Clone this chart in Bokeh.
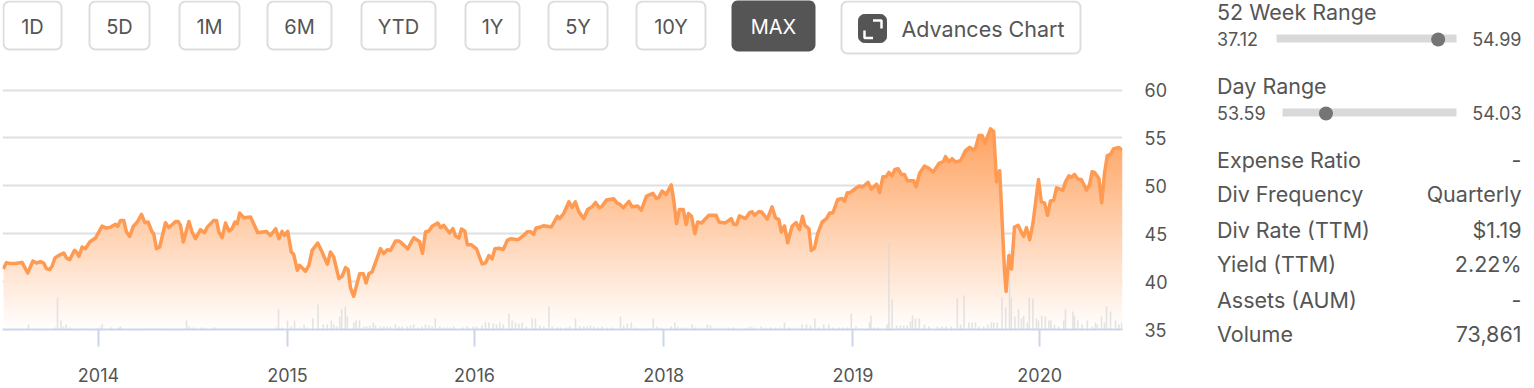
import numpy as np
from bokeh.plotting import figure
from bokeh.layouts import row, column
from bokeh.models import Range1d, FixedTicker
from bokeh.embed import file_html
from bokeh.resources import INLINE
from bokeh.core.properties import value

# ---------- data ----------
week = [0.67,1.5,2.5,3.75,5.4,6.8,8.1,9,10,10.8,11.5,12.25,12.9,13.6,14.6,15.8,16.5,17.3,18.5,19,19.6,20.4,21.25,22.3,23.75,
25.4,26.5,27.5,28.75,29.3,30,30.8,31.5,32.3,33.2,34.2,35.25,36.1,36.9,37.9,38.3,39,39.8,41.25,42.1,43.75,44.4,45,45.7,47.1,47.9,48.75,
50,51,51.7,53.3,54,54.6,55.4,56.25,57.1,57.9,58.6,59.2,59.8,60.8,62.5,63.3,64.3,66.4,67.5,68.8,69.6,70.4,71,71.8,72.7,73.3,74.2,74.75,
76.25,77.1,77.9,79.3,80.4,81.7,82.5,83.3,84.6,85.4,86.25,86.9,87.5,88.3,89.8,90.7,91.4,92.1,92.9,95,95.8,96.7,97.5,98.75,99.6,
100,101.8,103.3,104.75,105.5,106.25,107.1,107.9,109.3,110,110.8,112.25,113.1,113.75,114.6,115.25,116.1,116.7,117.75,119,120.4,121.25,122.1,122.9,123.6,124.6,125.7,126.7,127.5,129.4,
130.8,131.7,132.5,133.3,133.9,135,135.8,137.7,139.2,139.8,140.8,142.1,142.9,143.7,144.6,145.8,146.8,147.9,148.75,149.75,150.4,151.5,153.3,154.2,154.8,155.7,157.1,157.9,159.3,160.2,
161.5,163.1,164,164.6,165.4,166.4,167.7,168.3,169,169.75,170.7,171.4,172,172.75,173.6,174.3,175.25,177.1,178.9,179.6,181.25,182.7,183.3,184,184.75,186.25,187.3,187.9,188.5,189.6,
190.25,191.7,192.9,193.75,194.6,195.2,196,196.8,197.9,198.9,199.75,
200.5,201.1,202.1,202.7,203.5,204.3,205.4,206.5,207.3,208.1,209.3,210.4,211,211.7,212.3,213.75,214.6,215.6,216.9,217.7,219,219.8,220.6,221.4,222.1,222.9,223.6,224.4,225.25,226,226.7,228.3,228.9,229.75,
231,232.1,233.2,234.6,235.7,236.25,237.1,237.9,238.75,240,241.25,242.25,243.2,243.75,244.6,245.4,246.1,247.5,248.3,249,249.8,250.4,251,251.4,252.1,252.75,253.5,254.4,255.2,255.8,256.5,257.3,258.1,
259.5,260.2,261,261.75,262.5,263.3,264,265.6,266.25,267.1,267.7,268.5,269.3,270.2,271.5,272.25,272.9,273.5,274.6,275.3,276,276.7,277.5,278.3,279.6,280.4]

price = [41.32,41.98,41.88,41.88,42.01,40.90,42.15,41.94,42.08,41.94,41.35,41.25,41.60,42.47,42.74,42.99,42.47,42.29,43.26,43.09,42.64,43.61,43.44,44.13,44.55,
45.80,45.59,45.69,45.97,45.76,46.39,46.39,45.17,44.72,45.76,46.22,47.01,46.15,46.22,45.17,45.00,43.44,43.61,46.15,45.63,46.28,46.28,45.87,44.13,46.28,45.17,44.48,
45.42,45.10,45.69,46.39,46.39,45.17,44.58,46.11,45.28,45.52,46.22,46.04,47.15,46.67,46.74,46.04,45.10,45.24,44.83,45.52,44.48,45.24,44.83,45.24,43.09,42.85,41.18,41.70,
41.08,41.70,43.26,44.03,43.09,41.81,43.09,42.57,40.31,40.56,41.46,41.25,39.34,38.47,40.83,40.83,39.86,40.83,41.01,43.44,42.92,43.33,43.26,44.24,44.24,
44.12,43.42,44.58,44.19,42.96,45.18,45.28,45.77,46.12,45.63,45.88,45.07,45.53,44.75,44.54,45.49,45.25,43.84,43.84,43.42,41.84,41.95,42.72,42.37,43.42,43.49,43.35,44.30,44.47,44.37,
44.82,45.21,45.21,44.93,45.60,45.70,45.84,45.70,46.82,46.58,47.11,48.33,47.74,48.33,47.28,46.58,47.53,47.81,48.26,47.70,47.88,48.51,48.65,48.16,48.09,47.70,48.37,47.81,47.88,47.46,
48.93,49.21,48.68,48.79,49.46,49.11,50.09,48.51,46.05,47.53,47.53,45.95,47.11,46.82,45.00,46.23,46.12,46.93,46.93,46.23,46.12,46.58,45.98,45.95,46.86,46.58,47.21,47.28,46.93,47.32,
47.28,46.51,47.81,46.65,46.47,45.18,45.81,44.05,45.77,46.16,45.42,
46.82,45.87,45.52,43.25,43.50,45.00,46.22,46.57,47.17,47.17,48.57,48.67,48.39,49.27,49.27,49.72,49.97,49.90,50.35,49.65,50.17,49.30,50.94,50.94,51.40,51.05,51.71,51.78,51.19,51.19,50.52,50.52,49.90,51.29,
52.06,51.82,51.43,52.34,52.52,53.04,52.52,52.83,52.48,52.62,53.67,54.02,53.74,53.92,55.24,55.24,54.44,55.94,55.66,50.42,51.57,46.40,41.15,38.99,42.73,41.33,45.70,45.87,45.17,44.72,45.63,44.37,46.05,
50.66,48.32,48.22,46.92,48.43,48.50,49.79,49.55,50.42,51.05,50.87,51.19,50.70,50.66,49.55,50.07,51.47,51.40,50.77,48.22,51.29,53.15,53.29,53.88,53.99,53.71]

vol_week = [7,13.75,14.25,15.1,15.75,16.4,17.25,21,24.2,24.8,25.4,27.7,29.6,30,37.5,38.8,39.8,46.5,47.1,47.9,48.75,50.25,51,53.3,53.8,56,58.2,69,69.5,70.4,71.75,72.7,73.5,74.8,75.9,76.7,78.1,79.4,80.7,81.7,82.7,83.3,84,84.8,85.3,86.2,86.7,88.3,88.9,89.75,90.8,91.5,92.3,93.2,93.75,95,95.8,96.7,97.5,98.75,99.6,
100.4,101.7,102.5,103.3,104.3,105.4,106.25,107.1,107.9,108.7,109.8,110.8,111.7,112.5,113.3,115.6,116.7,118.2,119,120.4,121.25,122.1,123.2,124,124.8,125.7,127.1,127.9,128.75,129.6,130.4,131.5,132.9,133.75,134.8,135.8,137.1,137.9,139.2,140,141.4,142.3,143.75,144.8,145.8,146.7,147.5,148.3,149.3,150.4,151.7,152.9,155,155.8,156.7,157.7,158.6,163.2,164.2,165.2,167.7,168.6,169.3,170.25,171.25,172.9,173.75,175.4,176.7,177.5,178.5,181.25,182.1,183.3,186.7,187.5,188.3,190.2,191.25,192.5,193.75,195,196,197.1,199.2,
200.4,201.5,202.5,203.6,204.6,205.8,207.1,208.1,209.6,210.7,211.7,212.7,213.9,217.25,217.6,218.5,219.4,221.7,222.1,222.9,224,225,225.8,226.7,227.5,228,228.75,229.7,231,232.1,234.2,235.4,236.4,237.7,239.2,240,240.9,242.1,242.9,243.75,244.6,245.8,246.8,247.7,248.3,249.2,250.4,251.3,252.25,252.7,253.6,254.5,255.25,255.8,256.7,257.2,258.1,259,259.5,260.3,261.2,262.1,262.6,263.5,264.5,265.8,266.25,268.1,268.5,269.3,270.4,271.7,272.9,273.75,274.2,275.25,276,276.5,277.5,278.75,279.6,280.3]

volume = [5,2,32,9,3,5,2,1,1,2,5,2,2,3,1,1,1,9,3,2,2,2,2,2,2,1,1,2,20,2,9,3,9,2,5,2,11,25,5,5,9,5,3,13,20,23,13,7,9,9,3,3,4,7,4,3,3,3,3,5,3,
3,3,4,5,2,3,5,4,3,11,3,2,2,2,3,2,3,3,3,4,7,7,6,5,7,5,16,9,7,6,7,3,11,11,4,3,23,3,2,2,2,3,11,3,3,3,4,3,2,3,2,2,13,4,6,7,2,11,3,2,3,7,3,2,2,5,2,2,5,4,2,2,2,2,2,3,2,3,2,2,2,2,7,2,2,
5,5,4,11,2,5,5,2,2,2,2,16,3,7,14,2,2,5,87,30,4,4,4,4,8,14,11,11,5,3,3,3,3,3,31,5,34,7,7,7,3,3,5,7,7,7,32,22,79,32,13,20,11,14,7,32,31,11,9,14,13,9,9,5,3,9,20,18,14,9,5,9,3,7,5,13,7,23,18,9,5,7]

year_ticks = [24.5, 71.75, 118.5, 165.8, 213.1, 259.8]
year_labels = ["2014", "2015", "2016", "2018", "2019", "2020"]
price_ticks = [35, 40, 45, 50, 55, 60]

buttons = ["1D", "5D", "1M", "6M", "YTD", "1Y", "5Y", "10Y", "MAX"]
stats = [("Expense Ratio", "-"), ("Div Frequency", "Quarterly"), ("Div Rate (TTM)", "$1.19"),
         ("Yield (TTM)", "2.22%"), ("Assets (AUM)", "-"), ("Volume", "73,861")]
week_range = (37.12, 54.99, 53.17)
day_range = (53.59, 54.03, 53.70)

# ---------- style ----------
FONT = "Inter"
TXT = "#555555"
ORANGE = "#ff9a52"
GRID = "#e0e0e0"
AXIS = "#ccd6eb"
btn_x = [(3, 61), (89, 149), (179, 239), (267, 331), (361, 435), (465, 519), (548, 607), (636, 705), (732, 814)]


def rounded(x0, y0, x1, y1, r):
    t = np.linspace(0, np.pi / 2, 7)
    xs = np.concatenate([x0 + r - r * np.cos(t), x1 - r + r * np.sin(t), x1 - r + r * np.cos(t), x0 + r - r * np.sin(t)])
    ys = np.concatenate([y0 + r - r * np.sin(t), y0 + r - r * np.cos(t), y1 - r + r * np.sin(t), y1 - r + r * np.cos(t)])
    return list(xs), list(ys)


def canvas(w, h, x0, x1, y0, y1, **kw):
    f = figure(width=w, height=h, x_range=Range1d(x0, x1), y_range=Range1d(y1, y0),
               output_backend="svg", toolbar_location=None, min_border=0,
               x_axis_location=None, y_axis_location=None, **kw)
    f.grid.visible = False
    f.outline_line_color = None
    return f


def txt(f, x, y, s, size, color=TXT, align="left"):
    f.text(x=[x], y=[y], text=[s], text_font=value(FONT), text_font_size=f"{size}px",
           text_color=color, text_align=align, text_baseline="middle")


# ---------- top bar (its frame is aligned with the chart's frame below it) ----------
top = canvas(1180, 68, 2, 1122, 0, 68, min_border_left=2, min_border_right=58)
for (a, b), name in zip(btn_x, buttons):
    active = name == "MAX"
    xs, ys = rounded(a, 0.5 if active else 1, b, 50 if active else 49, 6)
    top.patch(xs, ys, fill_color=TXT if active else "white", line_color=TXT if active else "#dddddd", line_width=2)
    txt(top, (a + b) / 2, 26, name, 20, "white" if active else TXT, "center")
xs, ys = rounded(841, 1, 1080, 53, 6)
top.patch(xs, ys, fill_color="white", line_color="#dddddd", line_width=2)
xs, ys = rounded(858, 14, 886, 42, 6)
top.patch(xs, ys, fill_color=TXT, line_color=TXT, line_width=1)
top.line([872.5, 881, 881], [20, 20, 28], line_color="white", line_width=2.5)
top.line([864, 864, 872.5], [30, 37.5, 37.5], line_color="white", line_width=2.5)
txt(top, 901, 28, "Advances Chart", 21.5)

# ---------- main chart ----------
YTOP = 60.47
chart = figure(width=1180, height=320, x_range=Range1d(0.5, 280.5), y_range=Range1d(35, YTOP),
               output_backend="svg", toolbar_location=None, x_axis_location="below", y_axis_location="right",
               min_border_left=2, min_border_right=58, min_border_top=17, min_border_bottom=59)
chart.outline_line_color = None
chart.xgrid.visible = False
chart.ygrid.grid_line_color = GRID
chart.ygrid.grid_line_width = 2
chart.ygrid.ticker = FixedTicker(ticks=price_ticks)

ax = chart.xaxis[0]
ax.ticker = FixedTicker(ticks=year_ticks)
ax.major_label_overrides = dict(zip(year_ticks, year_labels))
ax.axis_line_color = AXIS
ax.axis_line_width = 2
ax.major_tick_line_color = AXIS
ax.major_tick_line_width = 2
ax.major_tick_in = 0
ax.major_tick_out = 17
ax.minor_tick_line_color = None
ax.major_label_standoff = 21
ax.major_label_text_font = FONT
ax.major_label_text_font_size = "18px"
ax.major_label_text_color = TXT

ay = chart.yaxis[0]
ay.ticker = FixedTicker(ticks=price_ticks)
ay.axis_line_color = None
ay.major_tick_line_color = None
ay.minor_tick_line_color = None
ay.major_label_standoff = 16
ay.major_label_text_font = FONT
ay.major_label_text_font_size = "18px"
ay.major_label_text_color = TXT

# gradient area under the price line, masked by the series itself
nx, ny = 1120, 244
wk = 0.5 + (np.arange(nx) + 0.5) / 4
lv = 35 + (np.arange(ny) + 0.5) * (YTOP - 35) / ny
curve = np.interp(wk, week, price)
mix = np.clip((lv[:, None] - 35) / (max(price) - 35), 0, 1) * np.ones((ny, nx))
inside = (lv[:, None] <= curve[None, :]) & (wk[None, :] >= week[0])
r = np.round(255 + (255 - 255) * mix).astype(np.uint32)
g = np.round(255 + (154 - 255) * mix).astype(np.uint32)
b_ = np.round(255 + (82 - 255) * mix).astype(np.uint32)
a_ = np.where(inside, 235, 0).astype(np.uint32)
img = (a_ << 24) | (b_ << 16) | (g << 8) | r
chart.image_rgba(image=[img], x=[0.5], y=[35], dw=[280], dh=[YTOP - 35])

chart.extra_y_ranges = {"vol": Range1d(0, 244)}
chart.vbar(x=vol_week, top=volume, bottom=0, width=0.4, y_range_name="vol",
           fill_color="#d9d9d9", fill_alpha=0.7, line_color=None)
chart.line(week, price, line_color=ORANGE, line_width=3.5, line_join="round")

# ---------- side panel ----------
side = canvas(354, 388, 1180, 1534, 0, 388)


def slider(title, y_title, y_val, lo, hi, now, bar0):
    bar1 = 1456
    txt(side, 1216.5, y_title, title, 21.5)
    txt(side, 1216.5, y_val, f"{lo:.2f}", 18)
    txt(side, 1521, y_val, f"{hi:.2f}", 18, align="right")
    side.line([bar0, bar1], [y_val, y_val], line_color="#d9d9d9", line_width=8)
    cx = bar0 + (now - lo) / (hi - lo) * (bar1 - bar0)
    side.scatter([cx], [y_val + 1], size=14, fill_color="#757575", line_color=None)


slider("52 Week Range", 11.5, 38, *week_range, 1276)
slider("Day Range", 85.5, 112, *day_range, 1282)
for (label, val), y in zip(stats, [159.5, 193.5, 229.5, 263.5, 299.5, 333.5]):
    txt(side, 1216.5, y, label, 21.5)
    txt(side, 1521, y, val, 21.5, align="right")

layout = row(column(top, chart, spacing=0), side, spacing=0)
open("out.html", "w").write(file_html(layout, INLINE))
